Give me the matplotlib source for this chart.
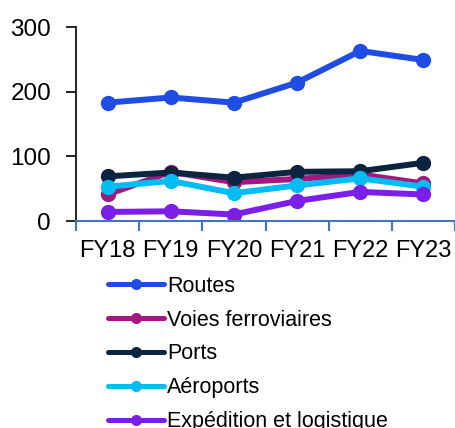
import matplotlib
matplotlib.use("Agg")
import matplotlib.pyplot as plt
import numpy as np

plt.rcParams['font.family'] = ['Liberation Sans', 'DejaVu Sans']

categories = ["FY18", "FY19", "FY20", "FY21", "FY22", "FY23"]
routes = [183, 191, 183, 214, 263, 249]
rail = [41, 76, 60, 65, 72, 58]
ports = [69, 75, 67, 76, 77, 90]
airports = [53, 62, 43, 55, 66, 53]
shipping = [14, 15, 10, 31, 45, 41]

series = [
    ("Routes", routes, "#1F4DE3"),
    ("Voies ferroviaires", rail, "#A3177F"),
    ("Ports", ports, "#0D2440"),
    ("Aéroports", airports, "#00BCF2"),
    ("Expédition et logistique", shipping, "#7B1FE8"),
]

W, H = 455, 428
fig = plt.figure(figsize=(W / 100, H / 100), dpi=100)
ax = fig.add_axes([76 / W, (H - 221) / H, (455 - 76) / W, (221 - 27) / H])

x = np.arange(len(categories))
for name, vals, col in series:
    ax.plot(x, vals, color=col, lw=4.3, marker="o", ms=10, label=name,
            solid_capstyle="round")

ax.set_ylim(0, 300)
ax.set_xlim(-0.5, len(categories) - 0.5)
ax.set_yticks([0, 100, 200, 300])
ax.set_xticks(x)
ax.set_xticklabels(categories)
ax.set_xticks(np.arange(-0.5, len(categories) - 0.4, 1), minor=True)
ax.tick_params(axis="x", which="major", length=0, labelsize=17, pad=14)
ax.tick_params(axis="x", which="minor", length=7, width=1.5, color="#4472C4", direction="out")
ax.tick_params(axis="y", length=7, width=1.2, labelsize=17.5, pad=11)

for s in ["top", "right"]:
    ax.spines[s].set_visible(False)
ax.spines["left"].set_linewidth(1.2)
ax.spines["bottom"].set_color("#4472C4")
ax.spines["bottom"].set_linewidth(1.5)

handles, labels = ax.get_legend_handles_labels()
leg = fig.legend(handles, labels, loc="upper left",
                 bbox_to_anchor=(99 / W, 1 - 267 / H), frameon=False,
                 fontsize=15.5, handlelength=2.6, handletextpad=0.15,
                 labelspacing=0.6, borderaxespad=0)
for ln in leg.get_lines():
    ln.set_markersize(7)
    ln.set_linewidth(3.6)

fig.savefig("out.png", dpi=100)
